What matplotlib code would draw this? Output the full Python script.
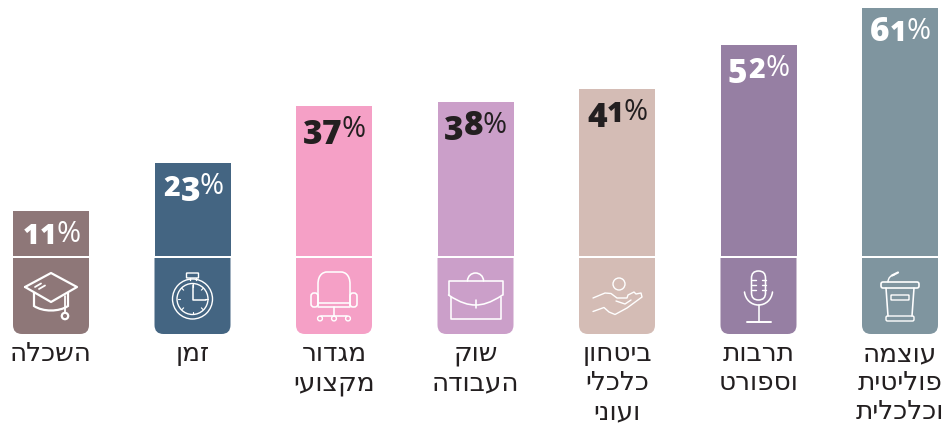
import matplotlib
matplotlib.use('Agg')
import numpy as np
import matplotlib.pyplot as plt
from matplotlib.path import Path
from matplotlib.patches import PathPatch, Circle, FancyBboxPatch
from matplotlib.transforms import Affine2D

# Data, left to right
categories = ['השכלה', 'זמן', 'מגדור\nמקצועי', 'שוק\nהעבודה', 'ביטחון\nכלכלי\nועוני',
              'תרבות\nוספורט', 'עוצמה\nפוליטית\nוכלכלית']
values = [11, 23, 37, 38, 41, 52, 61]
colors = ['#8e7778', '#446582', '#f5a0c6', '#cb9fc9', '#d4bcb5', '#967fa3', '#7f959f']
label_colors = ['white', 'white', '#231f20', '#231f20', '#231f20', 'white', 'white']

W, H = 948, 424
BASE = 256      # pixel row of value 0
PX_PER_PCT = 4.065
SPACING = 141.5
FIRST = 51
BAR_W = 76

# old style figures: font size, drop below baseline (px), advance (px)
DIGITS = {'1': (20.5, 0, 17.5), '2': (20.5, 0, 20), '3': (24, 5, 18.5), '4': (24, 5, 20),
          '5': (24, 5, 18.5), '6': (24, 0, 19), '7': (24, 5, 20), '8': (24, 0, 20)}
PCT_W = 23

fig = plt.figure(figsize=(W / 100, H / 100), dpi=100)
ax = fig.add_axes([0, 0, 1, 1])
ax.set_xlim(-FIRST / SPACING, (W - FIRST) / SPACING)
ax.set_ylim(-(H - BASE) / PX_PER_PCT, BASE / PX_PER_PCT)
ax.axis('off')

# pixel coordinates with y going down, for icons and the bar feet
px = Affine2D().scale(1, -1).translate(0, H)
ICON_LW = 1.15

x = np.arange(len(values))
ax.bar(x, values, width=BAR_W / SPACING, color=colors, linewidth=0)


def line(pts, cx, lw=ICON_LW):
    pts = [(cx + a, b) for a, b in pts]
    ax.add_patch(PathPatch(Path(pts), fill=False, ec='white', lw=lw, transform=px,
                           capstyle='round', joinstyle='round'))


def curve(pts, cx, lw=ICON_LW):
    # first point then triples of bezier control points
    verts = [(cx + a, b) for a, b in pts]
    codes = [Path.MOVETO] + [Path.CURVE4] * (len(pts) - 1)
    ax.add_patch(PathPatch(Path(verts, codes), fill=False, ec='white', lw=lw, transform=px,
                           capstyle='round'))


def circle(cx, cy, r, lw=ICON_LW):
    ax.add_patch(Circle((cx, cy), r, fill=False, ec='white', lw=lw, transform=px))


def rrect(x0, y0, w, h, r, lw=ICON_LW):
    ax.add_patch(FancyBboxPatch((x0 + r, y0 + r), w - 2 * r, h - 2 * r,
                                boxstyle='round,pad=%f,rounding_size=%f' % (r, r),
                                fill=False, ec='white', lw=lw, transform=px))


def foot(cx, color):
    l, r = cx - BAR_W / 2, cx + BAR_W / 2
    top, bot, c = 258, 334, 9
    verts = [(l, top), (r, top), (r, bot - c), (r, bot), (r - c, bot),
             (l + c, bot), (l, bot), (l, bot - c), (l, top)]
    codes = [Path.MOVETO, Path.LINETO, Path.LINETO, Path.CURVE3, Path.CURVE3,
             Path.LINETO, Path.CURVE3, Path.CURVE3, Path.CLOSEPOLY]
    ax.add_patch(PathPatch(Path(verts, codes), fc=color, ec='none', transform=px))


def icon_cap(cx):
    line([(-26, 287), (0, 273), (26, 287), (0, 302), (-26, 287)], cx, 1.6)
    line([(-16, 287), (-10, 283.5)], cx, 1.3)
    line([(-12, 289), (-6, 285.5)], cx, 1.3)
    curve([(-17, 293), (-17, 300), (-17, 300), (-17, 306), (-8, 312), (8, 312), (17, 306),
           (17, 300), (17, 300), (17, 293)], cx, 1.6)
    line([(14, 296), (14, 312)], cx, 1.3)
    circle(cx + 14, 316, 3.2, 1.6)


def icon_watch(cx):
    circle(cx, 299, 20, 1.0)
    circle(cx, 299, 15.5, 1.0)
    rrect(cx - 6, 273, 12, 5, 0.5, 1.0)
    line([(-3, 278), (-3, 280)], cx, 1.0)
    line([(3, 278), (3, 280)], cx, 1.0)
    line([(0, 285), (0, 300), (13, 300)], cx, 1.1)
    for a in np.arange(0, 360, 45):
        s, c = np.sin(np.radians(a)), np.cos(np.radians(a))
        line([(12.5 * s, 299 - 12.5 * c), (15 * s, 299 - 15 * c)], cx, 0.8)


def icon_chair(cx):
    curve([(-16, 306), (-16, 295), (-16, 295), (-16, 284), (-16, 275), (-11, 272), (-7, 272),
           (-2, 272), (2, 272), (7, 272), (11, 272), (16, 275), (16, 284),
           (16, 295), (16, 295), (16, 306)], cx)
    rrect(cx - 23, 293, 7, 14, 3)
    rrect(cx + 16, 293, 7, 14, 3)
    line([(-16, 303), (16, 303)], cx)
    line([(-16, 307), (16, 307)], cx)
    line([(0, 307), (0, 316)], cx)
    line([(-13, 316), (13, 316)], cx)
    for dx in (-14, 0, 14):
        circle(cx + dx, 318.5, 2.4, 1.0)


def icon_case(cx):
    line([(-27, 295), (-27, 281), (27, 281), (27, 295)], cx)
    curve([(-27, 295), (-15, 303), (-7, 305), (0, 305), (7, 305), (15, 303), (27, 295)], cx)
    line([(-25, 297), (-25, 319), (25, 319), (25, 297)], cx)
    line([(0, 300), (0, 308)], cx)
    curve([(-8, 281), (-8, 276), (-4, 273), (0, 273), (4, 273), (8, 276), (8, 281)], cx)


def icon_hand(cx):
    circle(cx + 2, 284, 6, 1.0)
    line([(-24, 298), (-12, 293), (-6, 293.5), (0, 298), (10, 298), (11, 295), (17, 292),
          (19, 294), (24, 293), (25, 297), (10, 308), (-2, 314.5), (-8, 312), (-13, 307.5),
          (-24, 311.5)], cx, 1.0)
    line([(-1, 301), (8, 304), (14, 300)], cx, 1.0)


def icon_mic(cx):
    rrect(cx - 7, 271, 14, 29, 7)
    for yy in (280, 285, 290):
        line([(-7, yy), (-3, yy)], cx, 1.0)
        line([(3, yy), (7, yy)], cx, 1.0)
    curve([(-14, 292), (-13, 300), (-7, 305), (0, 305), (7, 305), (13, 300), (14, 292)], cx)
    line([(0, 305), (0, 322)], cx)
    line([(-12, 322), (12, 322)], cx, 1.4)


def icon_podium(cx):
    rrect(cx - 19, 282, 38, 6, 2, 1.2)
    line([(-14, 288), (-12, 316)], cx)
    line([(14, 288), (12, 316)], cx)
    rrect(cx - 14, 316, 28, 5, 1.5, 1.0)
    rrect(cx - 9, 295, 18, 5, 0.5, 1.0)
    curve([(-12, 282), (-12, 278), (-9, 275), (-6, 275)], cx, 1.0)
    line([(-8, 275.5), (-2, 272.5)], cx, 1.6)


def value_label(i, val, color):
    # digits one by one to get old style figures, then a lighter percent sign
    text = str(val)
    total = sum(DIGITS[d][2] for d in text) + PCT_W
    pos = -total / 2
    for d in text:
        size, drop, adv = DIGITS[d]
        ax.annotate(d, (i, val), xytext=((pos + adv / 2) * 0.72, -(33 + drop) * 0.72),
                    textcoords='offset points', ha='center', va='baseline', fontsize=size,
                    fontweight=800, family='Open Sans', color=color)
        pos += adv
    ax.annotate('%', (i, val), xytext=((pos + PCT_W / 2) * 0.72, -31 * 0.72),
                textcoords='offset points', ha='center', va='baseline', fontsize=21,
                family='Open Sans', stretch='semi-condensed', color=color)


icons = [icon_cap, icon_watch, icon_chair, icon_case, icon_hand, icon_mic, icon_podium]

for i, val in enumerate(values):
    cx = FIRST + SPACING * i
    foot(cx, colors[i])
    icons[i](cx)
    value_label(i, val, label_colors[i])
    # matplotlib has no bidi layout, so Hebrew is laid out in visual order
    for j, row in enumerate(categories[i].split('\n')):
        ax.text(cx, 361 + 29 * j, row[::-1], transform=px, ha='center', va='baseline',
                fontsize=19, family=['DejaVu Sans'], color='#231f20')

fig.savefig('out.png', dpi=100)
